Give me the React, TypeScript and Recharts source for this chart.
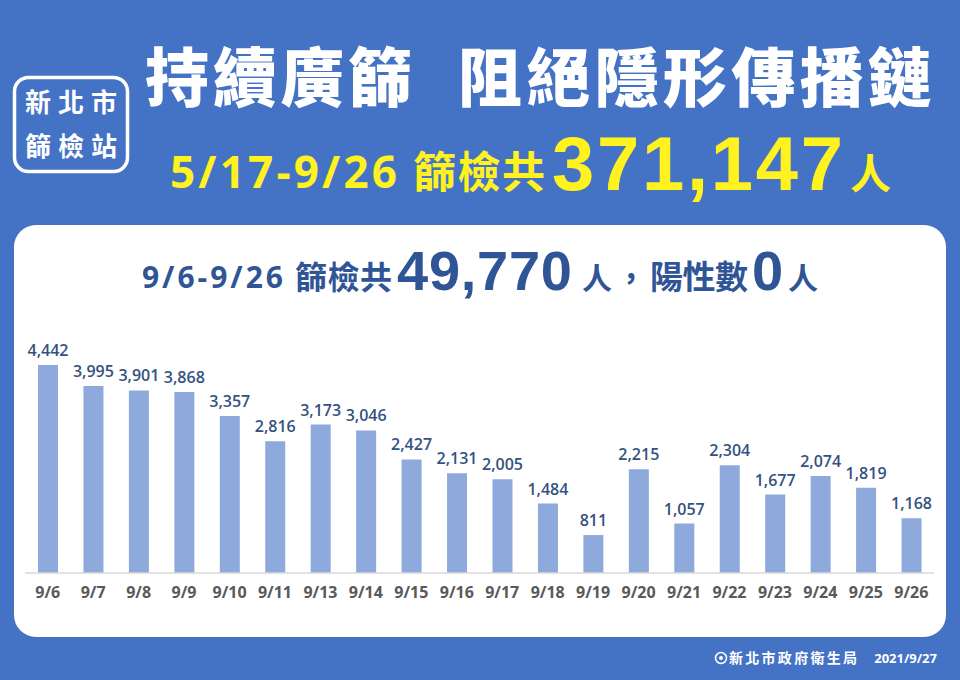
import { BarChart, Bar, XAxis, YAxis, LabelList } from "recharts";

// screening counts per day (9/12 missing in source)
const dates = ["9/6", "9/7", "9/8", "9/9", "9/10", "9/11", "9/13", "9/14", "9/15", "9/16", "9/17", "9/18", "9/19", "9/20", "9/21", "9/22", "9/23", "9/24", "9/25", "9/26"];
const counts = [4442, 3995, 3901, 3868, 3357, 2816, 3173, 3046, 2427, 2131, 2005, 1484, 811, 2215, 1057, 2304, 1677, 2074, 1819, 1168];

const totalAll = 371147;
const positives = 0;

const BG = "#4472C4";
const BAR = "#8EA9DB";
const NAVY = "#2F5597";
const YELLOW = "#FFF21F";
const CJK = "'Noto Sans CJK TC', 'Noto Sans', sans-serif";
const NUM = "'Liberation Sans', Arial, sans-serif";
const SANS = "'Open Sans', 'Noto Sans', sans-serif";

const fmt = (v: any) => Number(v).toLocaleString("en-US");

export default function App() {
  const rows = dates.map((d, i) => ({ date: d, count: counts[i] }));
  const periodTotal = counts.reduce((a, b) => a + b, 0);

  return (
    <div
      style={{
        position: "absolute",
        left: 0,
        top: 0,
        width: 960,
        height: 680,
        background: BG,
        overflow: "hidden",
      }}
    >
      {/* white panel */}
      <div
        style={{
          position: "absolute",
          left: 14,
          top: 225,
          width: 932,
          height: 412,
          background: "#fff",
          borderRadius: 22,
        }}
      />

      {/* chart */}
      <div style={{ position: "absolute", left: 0, top: 0 }}>
        <BarChart
          width={960}
          height={680}
          data={rows}
          margin={{ top: 339, right: 26, bottom: 77, left: 25 }}
          barCategoryGap={0}
        >
          <YAxis hide domain={[0, 5000]} />
          <XAxis
            dataKey="date"
            interval={0}
            height={30}
            tickLine={false}
            tickMargin={8}
            axisLine={{ stroke: "#d9d9d9", strokeWidth: 1.5 }}
            tick={{ fill: "#595959", fontSize: 16, fontWeight: 700, fontFamily: SANS }}
          />
          <Bar dataKey="count" fill={BAR} barSize={20} isAnimationActive={false}>
            <LabelList
              dataKey="count"
              position="top"
              offset={9}
              formatter={fmt}
              style={{ fill: "#34527F", fontSize: 16, fontWeight: 600, fontFamily: SANS }}
            />
          </Bar>
        </BarChart>
      </div>

      {/* header + texts */}
      <svg
        width={960}
        height={680}
        style={{ position: "absolute", left: 0, top: 0, pointerEvents: "none" }}
      >
        {/* badge */}
        <rect x={14.5} y={77.5} width={113} height={94} rx={14} fill="none" stroke="#fff" strokeWidth={3.5} />
        <text x={25} y={112} textLength={92} lengthAdjust="spacing" fill="#fff" fontSize={26} fontWeight={700} fontFamily={CJK}>
          新北市
        </text>
        <text x={25} y={156} textLength={92} lengthAdjust="spacing" fill="#fff" fontSize={26} fontWeight={700} fontFamily={CJK}>
          篩檢站
        </text>

        {/* main title */}
        <text x={145} y={101} textLength={267} lengthAdjust="spacing" fill="#fff" fontSize={64} fontWeight={900} fontFamily={CJK}>
          持續廣篩
        </text>
        <text x={458} y={101} textLength={474} lengthAdjust="spacing" fill="#fff" fontSize={64} fontWeight={900} fontFamily={CJK}>
          阻絕隱形傳播鏈
        </text>

        {/* yellow line */}
        <text x={170} y={188} textLength={227} lengthAdjust="spacing" fill={YELLOW} fontSize={44} fontWeight={700} fontFamily={SANS}>
          5/17-9/26
        </text>
        <text x={413} y={188} textLength={132} lengthAdjust="spacing" fill={YELLOW} fontSize={43} fontWeight={700} fontFamily={CJK}>
          篩檢共
        </text>
        <text x={552} y={190} textLength={291} lengthAdjust="spacing" fill={YELLOW} fontSize={76} fontWeight={700} fontFamily={NUM}>
          {fmt(totalAll)}
        </text>
        <text x={850} y={189} fill={YELLOW} fontSize={41} fontWeight={700} fontFamily={CJK}>
          人
        </text>

        {/* panel title */}
        <text x={142} y={288} textLength={141} lengthAdjust="spacing" fill={NAVY} fontSize={30} fontWeight={700} fontFamily={SANS}>
          9/6-9/26
        </text>
        <text x={295} y={289} textLength={97} lengthAdjust="spacing" fill={NAVY} fontSize={32} fontWeight={700} fontFamily={CJK}>
          篩檢共
        </text>
        <text x={397} y={290} textLength={175} lengthAdjust="spacing" fill={NAVY} fontSize={56} fontWeight={700} fontFamily={NUM}>
          {fmt(periodTotal)}
        </text>
        <text x={582} y={289} fill={NAVY} fontSize={30} fontWeight={700} fontFamily={CJK}>
          人
        </text>
        <text x={616} y={289} fill={NAVY} fontSize={30} fontWeight={700} fontFamily={CJK}>
          ，
        </text>
        <text x={650} y={289} textLength={98} lengthAdjust="spacing" fill={NAVY} fontSize={33} fontWeight={700} fontFamily={CJK}>
          陽性數
        </text>
        <text x={752} y={290} fill={NAVY} fontSize={56} fontWeight={700} fontFamily={NUM}>
          {positives}
        </text>
        <text x={788} y={289} fill={NAVY} fontSize={30} fontWeight={700} fontFamily={CJK}>
          人
        </text>

        {/* footer */}
        <circle cx={721} cy={658} r={5.5} fill="none" stroke="#fff" strokeWidth={1.5} />
        <circle cx={721} cy={658} r={2} fill="#fff" />
        <text x={729} y={663} textLength={128} lengthAdjust="spacing" fill="#fff" fontSize={14} fontWeight={700} fontFamily={CJK}>
          新北市政府衛生局
        </text>
        <text x={937} y={663} textAnchor="end" fill="#fff" fontSize={13} fontWeight={700} fontFamily={SANS}>
          2021/9/27
        </text>
      </svg>
    </div>
  );
}
